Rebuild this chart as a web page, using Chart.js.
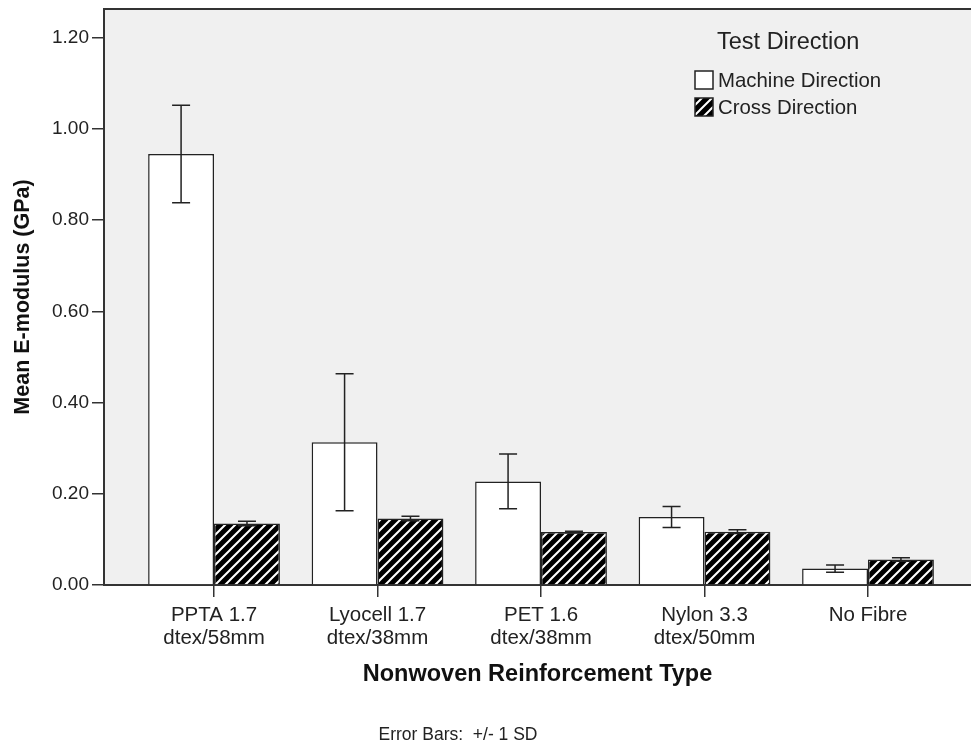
<!DOCTYPE html>
<html>
<head>
<meta charset="utf-8">
<style>
  html, body { margin: 0; padding: 0; background: #fff; }
  #wrap { width: 971px; height: 747px; position: relative; }
</style>
<script src="https://cdn.jsdelivr.net/npm/chart.js@4.4.1/dist/chart.umd.min.js"></script>
</head>
<body>
<div id="wrap"><canvas id="chart" width="971" height="747"></canvas></div>
<script>
// values
const categories = [
  ['PPTA 1.7', 'dtex/58mm'],
  ['Lyocell 1.7', 'dtex/38mm'],
  ['PET 1.6', 'dtex/38mm'],
  ['Nylon 3.3', 'dtex/50mm'],
  ['No Fibre']
];
const machineMeans = [0.945, 0.313, 0.227, 0.149, 0.036];
const machineSD = [0.107, 0.150, 0.060, 0.023, 0.008];
const crossMeans = [0.135, 0.146, 0.116, 0.117, 0.056];
const crossSD = [0.005, 0.005, 0.002, 0.004, 0.004];
const yTicks = [0, 0.2, 0.4, 0.6, 0.8, 1.0, 1.2];

const FONT = '"Liberation Sans", Arial, sans-serif';
const INK = '#222';

// diagonal hatch for cross direction
function hatch() {
  const n = 10;
  const c = document.createElement('canvas');
  c.width = n; c.height = n;
  const g = c.getContext('2d');
  g.fillStyle = '#000';
  g.fillRect(0, 0, n, n);
  g.strokeStyle = '#fff';
  g.lineWidth = 2;
  g.beginPath();
  g.moveTo(-1, n + 1); g.lineTo(n + 1, -1);
  g.moveTo(-1, 1); g.lineTo(1, -1);
  g.moveTo(n - 1, n + 1); g.lineTo(n + 1, n - 1);
  g.stroke();
  return g.createPattern(c, 'repeat');
}

const toPoints = arr => arr.map((v, i) => ({ x: i + 1, y: v }));

const plotFrame = {
  id: 'plotFrame',
  beforeDraw(chart) {
    const { ctx, chartArea: a } = chart;
    ctx.save();
    ctx.fillStyle = '#f0f0f0';
    ctx.fillRect(a.left, a.top, a.right - a.left, a.bottom - a.top);
    ctx.strokeStyle = '#333';
    ctx.lineWidth = 2;
    ctx.beginPath();
    ctx.moveTo(a.left, a.top);
    ctx.lineTo(a.right, a.top);
    ctx.stroke();
    ctx.restore();
  }
};

const errorBars = {
  id: 'errorBars',
  afterDatasetsDraw(chart) {
    const { ctx } = chart;
    const y = chart.scales.y;
    const sds = [machineSD, crossSD];
    ctx.save();
    ctx.strokeStyle = INK;
    ctx.lineWidth = 1.5;
    chart.data.datasets.forEach((ds, d) => {
      chart.getDatasetMeta(d).data.forEach((bar, i) => {
        const m = ds.data[i].y, s = sds[d][i];
        const top = y.getPixelForValue(m + s), bot = y.getPixelForValue(m - s);
        ctx.beginPath();
        ctx.moveTo(bar.x, top); ctx.lineTo(bar.x, bot);
        ctx.moveTo(bar.x - 9, top); ctx.lineTo(bar.x + 9, top);
        ctx.moveTo(bar.x - 9, bot); ctx.lineTo(bar.x + 9, bot);
        ctx.stroke();
      });
    });
    ctx.restore();
  }
};

const legendBox = {
  id: 'legendBox',
  afterDraw(chart) {
    const { ctx } = chart;
    ctx.save();
    ctx.fillStyle = INK;
    ctx.textBaseline = 'middle';
    ctx.font = '23.5px ' + FONT;
    ctx.fillText('Test Direction', 717, 43);
    ctx.font = '20.4px ' + FONT;
    chart.data.datasets.forEach((ds, d) => {
      const cy = 80 + d * 27;
      ctx.fillStyle = ds.backgroundColor;
      ctx.fillRect(695, cy - 9, 18, 18);
      ctx.strokeStyle = INK;
      ctx.lineWidth = 1.5;
      ctx.strokeRect(695, cy - 9, 18, 18);
      ctx.fillStyle = INK;
      ctx.fillText(ds.label, 718, cy + 1);
    });
    // footnote
    ctx.font = '17.5px ' + FONT;
    ctx.textAlign = 'center';
    ctx.fillText('Error Bars:  +/- 1 SD', 458, 735);
    ctx.restore();
  }
};

new Chart(document.getElementById('chart'), {
  type: 'bar',
  data: {
    datasets: [
      {
        label: 'Machine Direction',
        data: toPoints(machineMeans),
        backgroundColor: '#ffffff',
        borderColor: INK,
        borderWidth: 1.5,
        categoryPercentage: 0.806,
        barPercentage: 1.0
      },
      {
        label: 'Cross Direction',
        data: toPoints(crossMeans),
        backgroundColor: hatch(),
        borderColor: INK,
        borderWidth: 1.5,
        categoryPercentage: 0.806,
        barPercentage: 1.0
      }
    ]
  },
  options: {
    responsive: false,
    animation: false,
    layout: { padding: { top: 9, left: 0, right: 0, bottom: 0 } },
    plugins: {
      legend: { display: false },
      tooltip: { enabled: false }
    },
    scales: {
      x: {
        type: 'linear',
        offset: false,
        min: 0.327,
        max: 5.63,
        afterFit: s => { s.height = 162; s.paddingLeft = 0; s.paddingRight = 0; },
        afterBuildTicks: s => { s.ticks = categories.map((c, i) => ({ value: i + 1 })); },
        grid: { offset: false, drawOnChartArea: false, drawTicks: true, tickLength: 12, color: '#333', lineWidth: 1.5 },
        border: { display: true, color: '#333', width: 2 },
        ticks: {
          autoSkip: false,
          maxRotation: 0,
          padding: 7,
          color: INK,
          font: { family: FONT, size: 20.5, lineHeight: 1.12 },
          callback: v => categories[v - 1]
        },
        title: {
          display: true,
          text: 'Nonwoven Reinforcement Type',
          color: '#111',
          font: { family: FONT, size: 23.5, weight: 'bold', lineHeight: 1.2 },
          padding: { top: 0, bottom: 58 }
        }
      },
      y: {
        min: 0,
        max: 1.263,
        afterFit: s => { s.width = 104; s.paddingTop = 0; s.paddingBottom = 0; },
        afterBuildTicks: s => { s.ticks = yTicks.map(v => ({ value: v })); },
        grid: { drawOnChartArea: false, drawTicks: true, tickLength: 12, color: '#333', lineWidth: 1.5 },
        border: { display: true, color: '#333', width: 2 },
        ticks: {
          padding: 3,
          color: INK,
          font: { family: FONT, size: 19 },
          callback: v => v.toFixed(2)
        },
        title: {
          display: true,
          text: 'Mean E-modulus (GPa)',
          color: '#111',
          font: { family: FONT, size: 21.5, weight: 'bold', lineHeight: 1.2 },
          padding: { top: 10, bottom: 0 }
        }
      }
    }
  },
  plugins: [plotFrame, errorBars, legendBox]
});
</script>
</body>
</html>
